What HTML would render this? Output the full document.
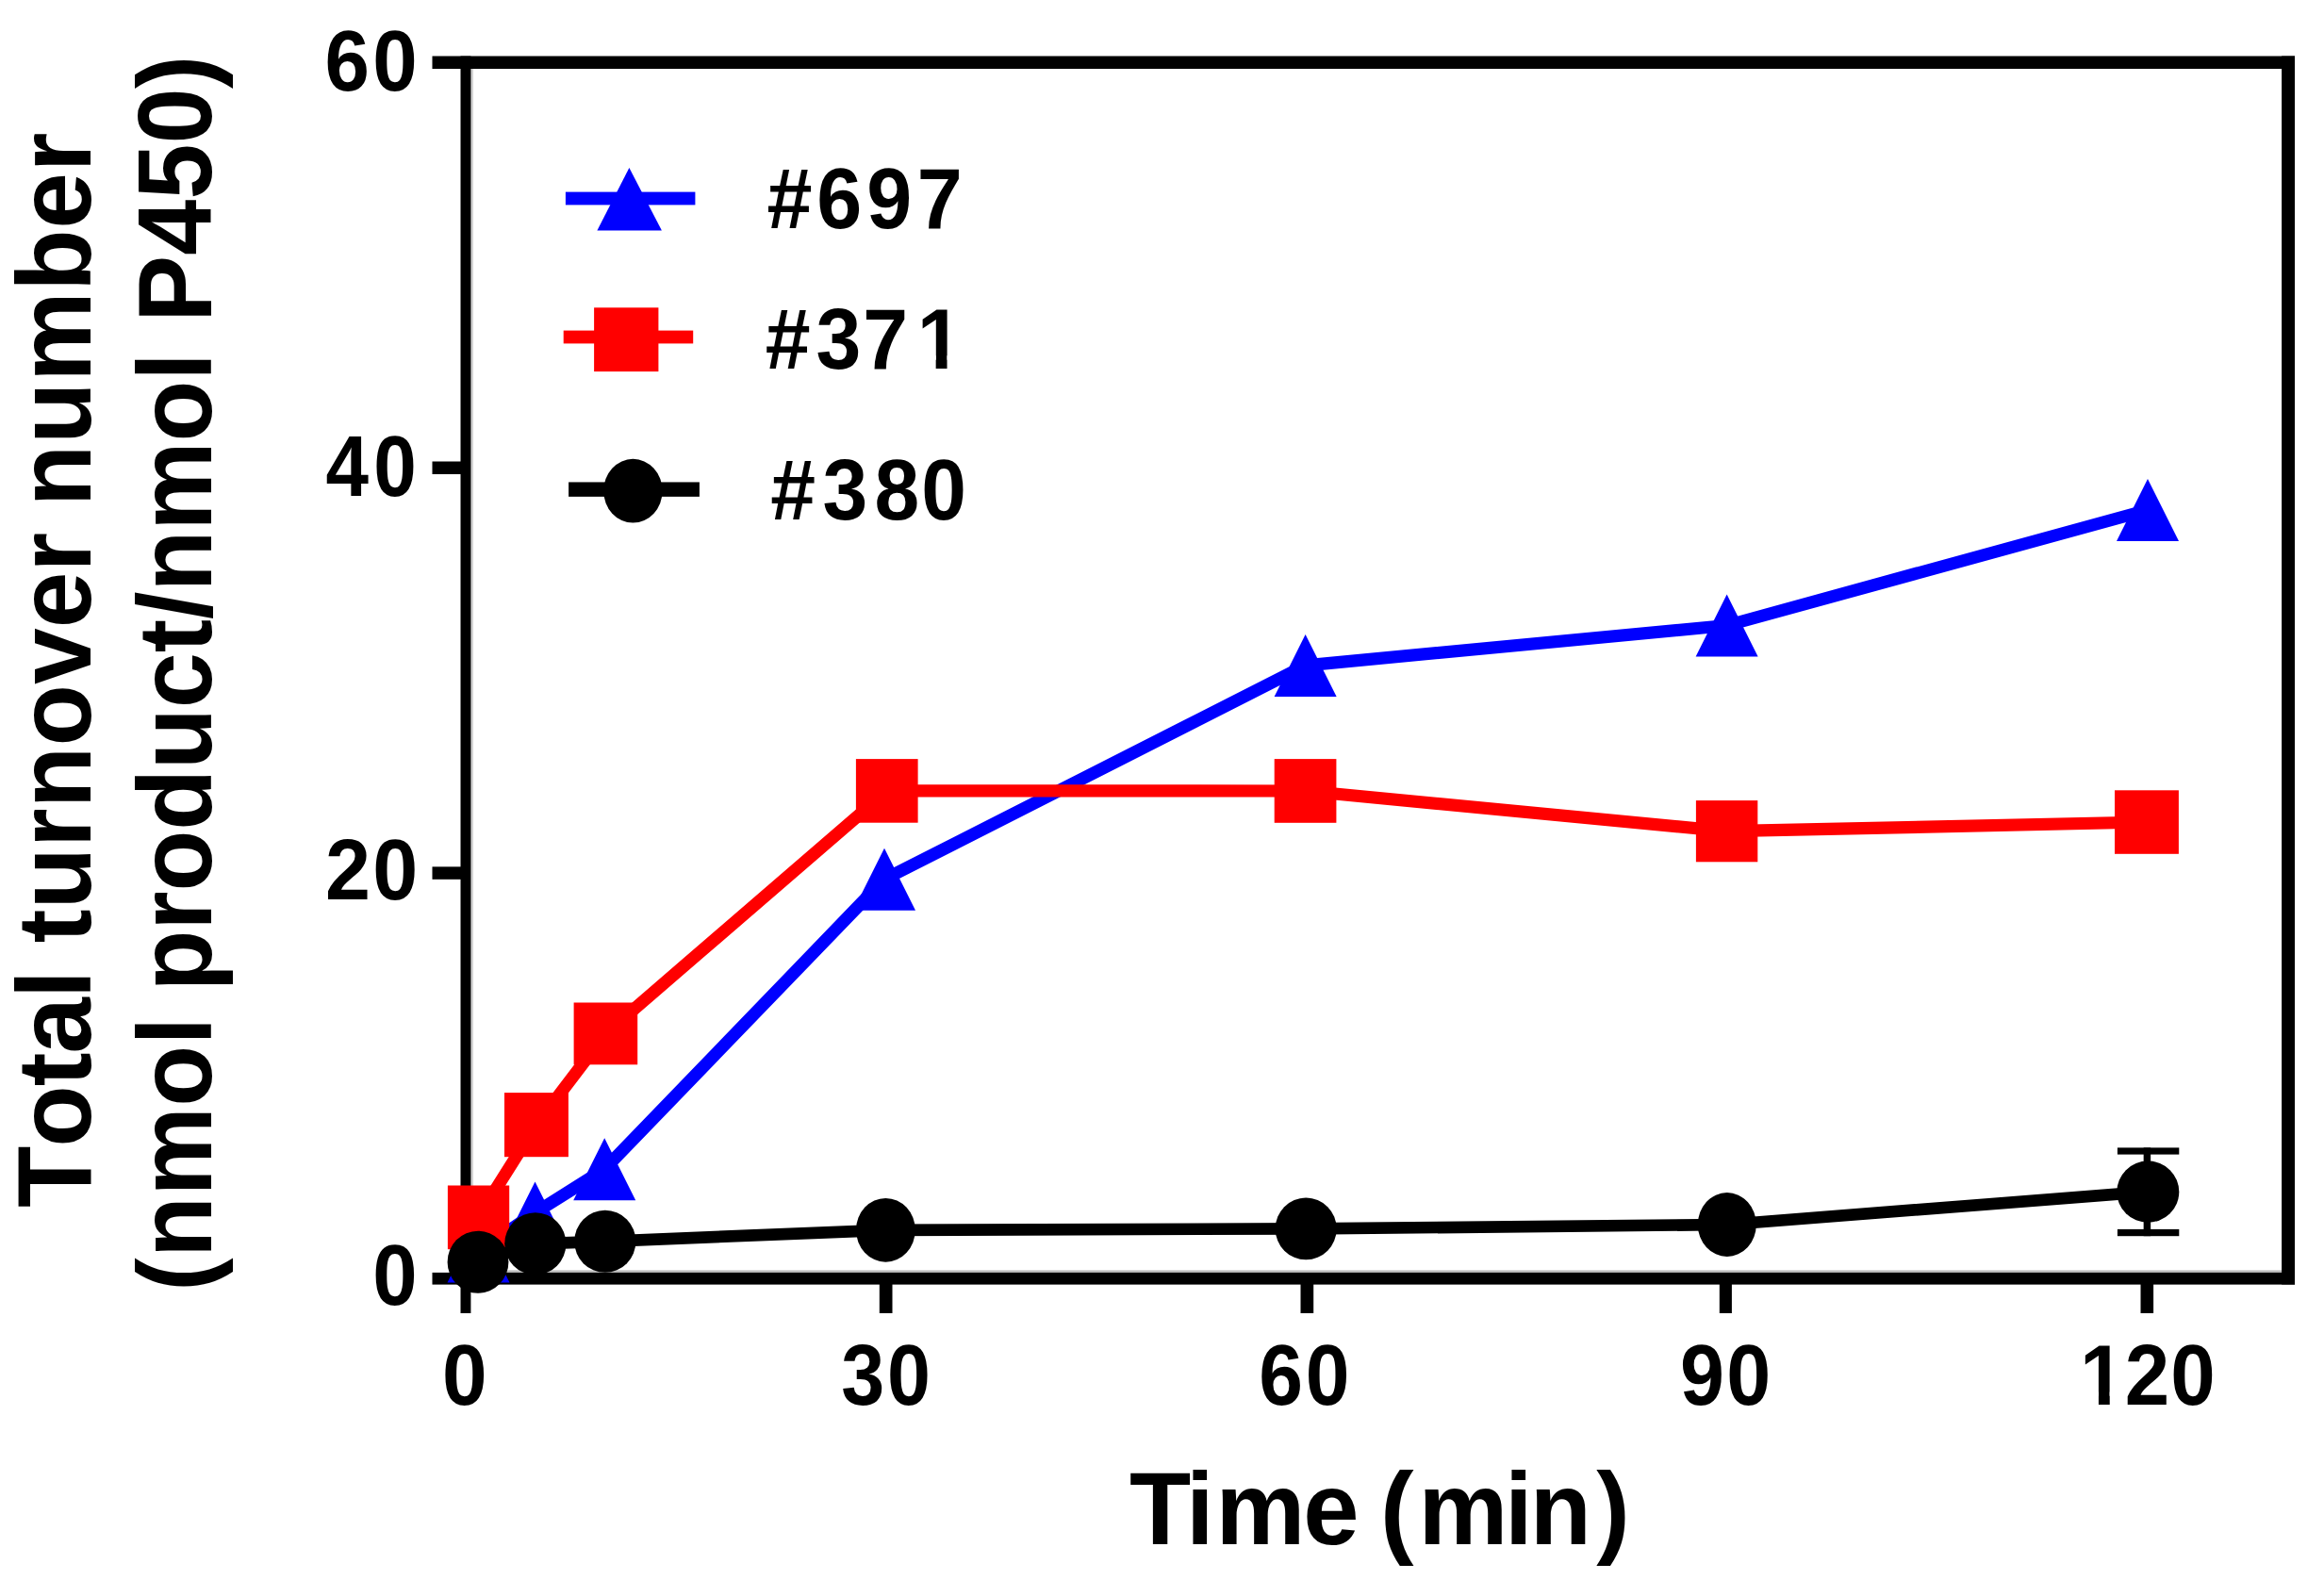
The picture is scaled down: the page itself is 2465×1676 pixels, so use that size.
<!DOCTYPE html>
<html lang="en"><head><meta charset="utf-8"><title>Total turnover number</title>
<style>html,body{margin:0;padding:0;background:#fff;}svg{display:block;}text{font-family:"Liberation Sans",Arial,Helvetica,sans-serif;font-weight:700;fill:#000;font-kerning:none;font-variant-ligatures:none;white-space:pre;}</style>
</head><body>
<svg width="2465" height="1676" viewBox="0 0 2465 1676">
<rect x="0" y="0" width="2465" height="1676" fill="#fff"/>
<g id="axes">
<rect x="458.50" y="59.50" width="1975.50" height="13.50" fill="#000"/>
<rect x="489.00" y="1347.40" width="1931.10" height="2.80" fill="#bfbfbf"/>
<rect x="458.50" y="1349.90" width="1975.50" height="12.70" fill="#000"/>
<rect x="499.00" y="73.00" width="3.00" height="1276.90" fill="#d4d4d4"/>
<rect x="488.50" y="59.50" width="10.90" height="1333.50" fill="#000"/>
<rect x="2420.10" y="59.50" width="13.90" height="1303.00" fill="#000"/>
<rect x="458.50" y="489.50" width="30.50" height="13.50" fill="#000"/>
<rect x="458.50" y="919.40" width="30.50" height="13.40" fill="#000"/>
<rect x="932.80" y="1362.00" width="13.70" height="31.00" fill="#000"/>
<rect x="1379.50" y="1362.00" width="13.70" height="31.00" fill="#000"/>
<rect x="1823.80" y="1362.00" width="13.10" height="31.00" fill="#000"/>
<rect x="2270.50" y="1362.00" width="13.60" height="31.00" fill="#000"/>
</g>
<g id="series-697">
<polyline points="507.5,1327.6 567.5,1286.5 641.2,1240.2 938.0,932.7 1384.6,705.9 1831.6,663.5 2278.0,541.0" fill="none" stroke="#0000ff" stroke-width="13.2" stroke-linejoin="round"/>
<polygon points="507.5,1294.6 540.5,1360.6 474.5,1360.6" fill="#0000ff"/>
<polygon points="567.5,1253.5 600.5,1319.5 534.5,1319.5" fill="#0000ff"/>
<polygon points="641.2,1207.2 674.2,1273.2 608.2,1273.2" fill="#0000ff"/>
<polygon points="938.0,899.7 971.0,965.7 905.0,965.7" fill="#0000ff"/>
<polygon points="1384.6,672.9 1417.6,738.9 1351.6,738.9" fill="#0000ff"/>
<polygon points="1831.6,630.5 1864.6,696.5 1798.6,696.5" fill="#0000ff"/>
<polygon points="2278.0,508.0 2311.0,574.0 2245.0,574.0" fill="#0000ff"/>
</g>
<g id="series-371">
<polyline points="507.5,1290.5 569.0,1193.1 642.4,1096.4 940.7,838.9 1384.6,839.0 1831.6,881.7 2277.0,872.0" fill="none" stroke="#ff0000" stroke-width="13.2" stroke-linejoin="round"/>
<rect x="474.90" y="1257.50" width="65.30" height="67.70" fill="#ff0000"/>
<rect x="535.00" y="1159.10" width="67.90" height="68.10" fill="#ff0000"/>
<rect x="608.60" y="1063.50" width="67.60" height="65.80" fill="#ff0000"/>
<rect x="907.90" y="805.10" width="65.70" height="67.60" fill="#ff0000"/>
<rect x="1351.70" y="805.10" width="65.70" height="67.70" fill="#ff0000"/>
<rect x="1798.90" y="849.10" width="65.40" height="65.20" fill="#ff0000"/>
<rect x="2243.00" y="838.30" width="67.90" height="67.50" fill="#ff0000"/>
</g>
<g id="series-380">
<rect x="2273.65" y="1217.40" width="7.50" height="93.80" fill="#000"/>
<rect x="2245.90" y="1217.40" width="65.40" height="7.20" fill="#000"/>
<rect x="2245.90" y="1303.90" width="65.40" height="7.30" fill="#000"/>
<polyline points="507.0,1338.7 567.8,1319.3 641.8,1316.8 939.4,1304.8 1385.2,1303.4 1831.8,1299.0 2278.3,1264.2" fill="none" stroke="#000" stroke-width="12.7" stroke-linejoin="round"/>
<ellipse cx="507.0" cy="1338.7" rx="32.4" ry="33.0" fill="#000"/>
<ellipse cx="567.8" cy="1319.3" rx="32.6" ry="33.0" fill="#000"/>
<ellipse cx="641.8" cy="1316.8" rx="32.6" ry="33.0" fill="#000"/>
<ellipse cx="939.4" cy="1304.8" rx="31.4" ry="33.9" fill="#000"/>
<ellipse cx="1385.2" cy="1303.4" rx="32.5" ry="32.9" fill="#000"/>
<ellipse cx="1831.8" cy="1299.0" rx="31.0" ry="33.9" fill="#000"/>
<ellipse cx="2278.3" cy="1264.2" rx="33.0" ry="32.6" fill="#000"/>
</g>
<g id="labels">
<text transform="translate(0,96.00) scale(0.9332,1)" x="369.05 423.57" font-size="91.4">60</text>
<text transform="translate(0,526.40) scale(0.8958,1)" x="385.59 442.48" font-size="91.4">40</text>
<text transform="translate(0,953.90) scale(0.9443,1)" x="365.28 418.47" font-size="91.4">20</text>
<text transform="translate(0,1383.70) scale(0.9317,1)" x="424.31" font-size="91.4">0</text>
<text transform="translate(0,1489.80) scale(0.9363,1)" x="500.92" font-size="91.4">0</text>
<text transform="translate(0,1489.80) scale(0.9033,1)" x="987.69 1041.79" font-size="91.4">30</text>
<text transform="translate(0,1489.80) scale(0.9196,1)" x="1452.13 1505.94" font-size="91.4">60</text>
<text transform="translate(0,1489.80) scale(0.9243,1)" x="1928.03 1981.16" font-size="91.4">90</text>
<clipPath id="c62"><path clip-rule="evenodd" d="M-9000,-9000H9000V9000H-9000Z M2364.61,-13.39H2383.22V6H2364.61Z M2395.85,-13.39H2412.37V6H2395.85Z"/></clipPath>
<text transform="translate(0,1489.80) scale(0.9340,1)" x="2361.94 2412.88 2464.89" font-size="91.4" clip-path="url(#c62)">120</text>
</g>
<g id="legend">
<rect x="599.90" y="203.60" width="137.50" height="13.80" fill="#0000ff"/>
<polygon points="667.4,178 701.9,244.4 633.4,244.4" fill="#0000ff"/>
<rect x="597.70" y="350.60" width="137.50" height="13.80" fill="#ff0000"/>
<rect x="630.10" y="326.30" width="68.30" height="67.80" fill="#ff0000"/>
<rect x="603.10" y="511.45" width="138.80" height="15.40" fill="#000"/>
<ellipse cx="671.4" cy="520.7" rx="31.2" ry="33.9" fill="#000"/>
<text transform="translate(0,241.60) scale(0.9440,1)" x="861.82 917.62 973.69 1030.40" font-size="91.4">#697</text>
<clipPath id="c73"><path clip-rule="evenodd" d="M-9000,-9000H9000V9000H-9000Z M1037.85,-13.39H1056.46V6H1037.85Z M1069.09,-13.39H1085.60V6H1069.09Z"/></clipPath>
<text transform="translate(0,390.70) scale(0.9396,1)" x="864.04 921.15 974.18 1035.17" font-size="91.4" clip-path="url(#c73)">#371</text>
<text transform="translate(0,551.30) scale(0.9389,1)" x="870.32 929.17 987.91 1040.96" font-size="91.4">#380</text>
</g>
<g id="titles">
<text transform="translate(0,1638.30) scale(0.9739,1)" x="1230.06 1291.67 1323.97 1419.33 1480.28 1503.28 1544.94 1638.72 1666.20 1738.53" font-size="109.6">Time (min)</text>
<text transform="translate(95.70,0) rotate(-90) scale(0.9656,1)" font-size="111"><tspan x="-1326.73" style="letter-spacing:-1.096px">Total</tspan> <tspan x="-1035.94" style="letter-spacing:0.101px">turnover</tspan> <tspan x="-556.30" style="letter-spacing:0.735px">number</tspan></text>
<text transform="translate(224.00,0) rotate(-90) scale(0.9568,1)" font-size="111"><tspan x="-1431.57" style="letter-spacing:0.460px">(nmol</tspan> <tspan x="-1099.00" style="letter-spacing:-0.097px">product/nmol</tspan> <tspan x="-357.14" style="letter-spacing:0.115px">P450</tspan><tspan x="-98.15" style="letter-spacing:0.000px">)</tspan></text>
</g>
</svg></body></html>
